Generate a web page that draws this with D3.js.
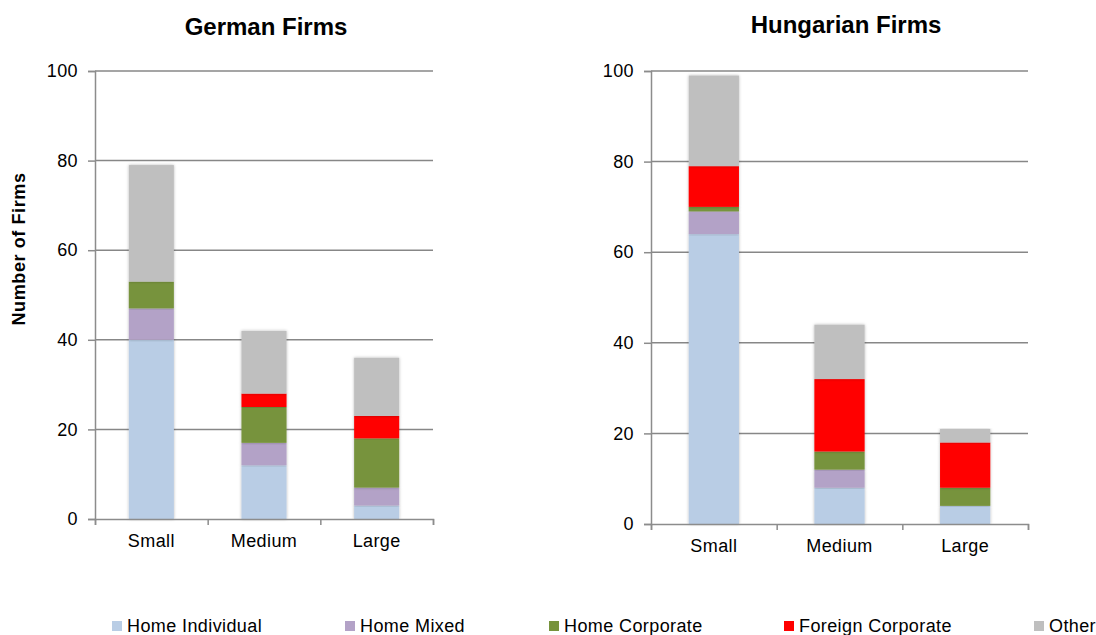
<!DOCTYPE html>
<html>
<head>
<meta charset="utf-8">
<script src="https://cdn.jsdelivr.net/npm/d3@7"></script>
<style>
  body { margin: 0; background: #fff; }
  svg text { font-family: Arial, "Liberation Sans", sans-serif; fill: #000; }
  .tick text { font-size: 18px; letter-spacing: 0.4px; }
  .title { font-size: 24px; font-weight: bold; }
</style>
</head>
<body>
<script>
// Data
const categories = ["Small", "Medium", "Large"];
const seriesNames = ["Home Individual", "Home Mixed", "Home Corporate", "Foreign Corporate", "Other"];
const seriesColors = ["#b9cde5", "#b3a2c7", "#77933c", "#ff0000", "#bfbfbf"];
const yTicks = [0, 20, 40, 60, 80, 100];

const germanIndividual = [40, 12, 3];
const germanMixed = [7, 5, 4];
const germanCorporate = [6, 8, 11];
const germanForeign = [0, 3, 5];
const germanOther = [26, 14, 13];

const hungarianIndividual = [64, 8, 4];
const hungarianMixed = [5, 4, 0];
const hungarianCorporate = [1, 4, 4];
const hungarianForeign = [9, 16, 10];
const hungarianOther = [20, 12, 3];

const W = 1096, H = 635;

const svg = d3.select("body")
              .append("svg")
              .attr("width", W)
              .attr("height", H);

// soft shadow on the bars
const defs = svg.append("defs");
defs.append("filter")
    .attr("id", "shade")
    .attr("x", "-20%").attr("y", "-5%")
    .attr("width", "140%").attr("height", "110%")
    .append("feDropShadow")
    .attr("dx", 0).attr("dy", 0)
    .attr("stdDeviation", 1.6)
    .attr("flood-color", "#000")
    .attr("flood-opacity", 0.28);

function toRows(cols) {
  return categories.map((c, i) => {
    const row = { cat: c };
    seriesNames.forEach((s, k) => row[s] = cols[k][i]);
    return row;
  });
}

function drawPanel(opts) {
  const { x0, x1, yTop, yBottom, title, titleX, titleY, rows } = opts;

  const x = d3.scaleBand()
              .domain(categories)
              .range([x0, x1])
              .paddingInner(0.6)
              .paddingOuter(0.3);
  const y = d3.scaleLinear()
              .domain([0, 100])
              .range([yBottom, yTop]);

  const g = svg.append("g");

  // gridlines
  g.append("g")
   .selectAll("line")
   .data(yTicks.filter(t => t > 0))
   .enter()
   .append("line")
   .attr("x1", x0)
   .attr("x2", x1)
   .attr("y1", d => y(d))
   .attr("y2", d => y(d))
   .attr("stroke", "#878787")
   .attr("stroke-width", 1.5);

  // stacked bars
  const stacked = d3.stack().keys(seriesNames)(rows);
  g.append("g")
   .selectAll("g")
   .data(stacked)
   .enter()
   .append("g")
   .attr("fill", (d, i) => seriesColors[i])
   .selectAll("rect")
   .data(d => d)
   .enter()
   .append("rect")
   .attr("x", d => x(d.data.cat))
   .attr("y", d => y(d[1]))
   .attr("width", x.bandwidth())
   .attr("height", d => y(d[0]) - y(d[1]))
   .attr("filter", "url(#shade)");

  // y axis
  const yAxis = d3.axisLeft(y)
                  .tickValues(yTicks)
                  .tickSize(7)
                  .tickPadding(10);
  const ya = g.append("g")
              .attr("transform", "translate(" + x0 + ",0)")
              .call(yAxis);
  ya.select(".domain").attr("stroke", "#8c8c8c").attr("stroke-width", 1.5);
  ya.selectAll(".tick line").attr("stroke", "#8c8c8c").attr("stroke-width", 1.5);

  // x axis: ticks at category boundaries, labels centred
  const edges = d3.scaleLinear().domain([0, categories.length]).range([x0, x1]);
  const xb = g.append("g")
              .attr("transform", "translate(0," + yBottom + ")")
              .call(d3.axisBottom(edges).tickValues(d3.range(categories.length + 1)).tickSize(6).tickFormat(""));
  xb.select(".domain").attr("stroke", "#8c8c8c").attr("stroke-width", 1.5);
  xb.selectAll(".tick line").attr("stroke", "#8c8c8c").attr("stroke-width", 1.5);

  const xl = g.append("g")
              .attr("transform", "translate(0," + yBottom + ")")
              .call(d3.axisBottom(x).tickSize(0).tickPadding(15));
  xl.select(".domain").remove();

  g.append("text")
   .attr("class", "title")
   .attr("x", titleX)
   .attr("y", titleY)
   .attr("text-anchor", "middle")
   .text(title);
}

drawPanel({
  x0: 95, x1: 433, yTop: 71, yBottom: 519,
  title: "German Firms", titleX: 266, titleY: 35,
  rows: toRows([germanIndividual, germanMixed, germanCorporate, germanForeign, germanOther])
});

drawPanel({
  x0: 651, x1: 1028, yTop: 71, yBottom: 524,
  title: "Hungarian Firms", titleX: 846, titleY: 33,
  rows: toRows([hungarianIndividual, hungarianMixed, hungarianCorporate, hungarianForeign, hungarianOther])
});

// y axis title
svg.append("text")
   .attr("transform", "translate(25,249) rotate(-90)")
   .attr("text-anchor", "middle")
   .attr("font-size", 18)
   .attr("font-weight", "bold")
   .attr("letter-spacing", 0.6)
   .text("Number of Firms");

// Legend
const legendX = [112, 345, 549, 784, 1034];
const legend = svg.append("g")
                  .selectAll("g")
                  .data(seriesNames)
                  .enter()
                  .append("g")
                  .attr("transform", (d, i) => "translate(" + legendX[i] + ",0)");
legend.append("rect")
      .attr("x", 0)
      .attr("y", 621)
      .attr("width", 10)
      .attr("height", 10)
      .attr("fill", (d, i) => seriesColors[i]);
legend.append("text")
      .attr("x", 15)
      .attr("y", 632)
      .attr("font-size", 18)
      .attr("letter-spacing", 0.4)
      .text(d => d);
</script>
</body>
</html>
